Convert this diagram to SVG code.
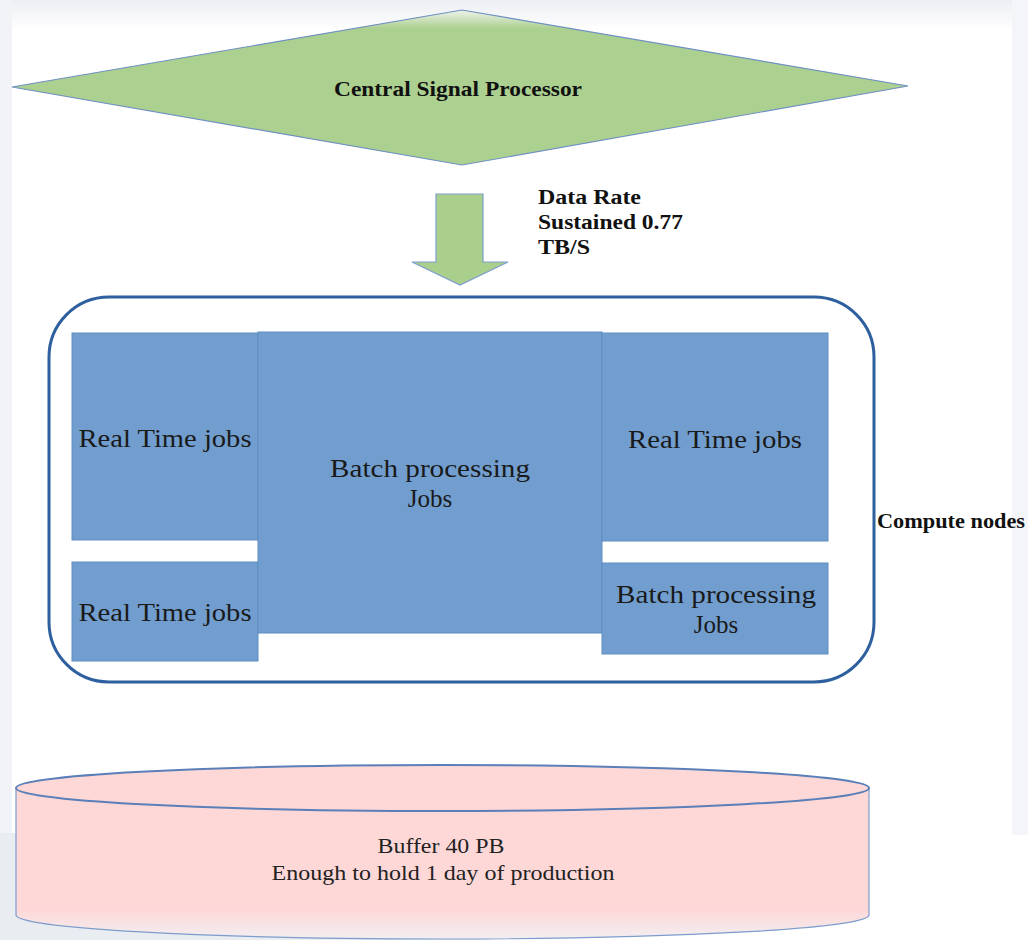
<svg xmlns="http://www.w3.org/2000/svg" width="1028" height="940" viewBox="0 0 1028 940">
<style>
.job{fill:#719ece;stroke:#5f8dc2;stroke-width:1}
.jt{font-family:"Liberation Serif",serif;font-size:25px;fill:#1a1a1a;text-anchor:middle}
.bt{font-family:"Liberation Serif",serif;font-weight:bold;fill:#111}
.st{font-family:"Liberation Serif",serif;font-size:22px;fill:#222;text-anchor:middle}
</style>
<defs>
<linearGradient id="topfade" x1="0" y1="0" x2="0" y2="1">
<stop offset="0" stop-color="#eceef3"/><stop offset="1" stop-color="#ffffff"/>
</linearGradient>
<linearGradient id="dfade" x1="0" y1="0" x2="0" y2="1">
<stop offset="0" stop-color="#eef3ea"/><stop offset="0.12" stop-color="#acd090"/><stop offset="1" stop-color="#acd090"/>
</linearGradient>
<linearGradient id="cylfade" x1="0" y1="0" x2="0" y2="1">
<stop offset="0" stop-color="#fdd8d7"/><stop offset="0.8" stop-color="#fdd8d7"/><stop offset="1" stop-color="#f3eef2"/>
</linearGradient>
</defs>
<rect x="0" y="0" width="1028" height="940" fill="#ffffff"/>
<rect x="0" y="0" width="1028" height="30" fill="url(#topfade)"/>
<rect x="0" y="0" width="12" height="940" fill="#f1f3f7"/>
<rect x="1012" y="0" width="16" height="835" fill="#f4f5f8"/>
<polygon points="0,833 512,833 490,940 0,940" fill="#e9ecf1"/>

<g id="central-signal-processor">
<polygon points="12,87 462,10 908,86 462,165" fill="url(#dfade)" stroke="#6f90c2" stroke-width="1.2"/>
<text class="bt" x="458" y="96" font-size="22" text-anchor="middle" textLength="248" lengthAdjust="spacingAndGlyphs">Central Signal Processor</text>
</g>

<g id="connectors">
<polygon points="436,194 483,194 483,262 508,262 460,285 412,262 436,262" fill="#aacf8d" stroke="#7d9ecd" stroke-width="1.2"/>
</g>

<g id="data-rate-label">
<text class="bt" font-size="20"><tspan x="538" y="204" textLength="103" lengthAdjust="spacingAndGlyphs">Data Rate</tspan><tspan x="538" y="229" textLength="145" lengthAdjust="spacingAndGlyphs">Sustained 0.77</tspan><tspan x="538" y="254" textLength="52" lengthAdjust="spacingAndGlyphs">TB/S</tspan></text>
</g>

<g id="compute-nodes">
<rect x="49" y="297" width="825" height="385" rx="60" ry="60" fill="#ffffff" stroke="#2e5f9e" stroke-width="3"/>
<text class="bt" x="877" y="528" font-size="20" textLength="148" lengthAdjust="spacingAndGlyphs">Compute nodes</text>
</g>

<g id="rt-left-top">
<rect class="job" x="72" y="333" width="186" height="207"/>
<text class="jt" x="165" y="447" textLength="173" lengthAdjust="spacingAndGlyphs">Real Time jobs</text>
</g>
<g id="rt-left-bottom">
<rect class="job" x="72" y="562" width="186" height="99"/>
<text class="jt" x="165" y="621" textLength="173" lengthAdjust="spacingAndGlyphs">Real Time jobs</text>
</g>
<g id="batch-center">
<rect class="job" x="258" y="332" width="344" height="301"/>
<text class="jt" x="430" y="477" textLength="200" lengthAdjust="spacingAndGlyphs">Batch processing</text>
<text class="jt" x="430" y="507">Jobs</text>
</g>
<g id="rt-right-top">
<rect class="job" x="602" y="333" width="226" height="208"/>
<text class="jt" x="715" y="448" textLength="174" lengthAdjust="spacingAndGlyphs">Real Time jobs</text>
</g>
<g id="batch-right-bottom">
<rect class="job" x="602" y="563" width="226" height="91"/>
<text class="jt" x="716" y="603" textLength="200" lengthAdjust="spacingAndGlyphs">Batch processing</text>
<text class="jt" x="716" y="633">Jobs</text>
</g>

<g id="buffer">
<path d="M16,788 L16,915 A426.5,24 0 0 0 869,915 L869,788 Z" fill="url(#cylfade)" stroke="#7d9ccb" stroke-width="1.2"/>
<ellipse cx="442.5" cy="788" rx="426.5" ry="23" fill="#fdd8d7" stroke="#5b7fb8" stroke-width="2"/>
<text class="st" x="441" y="853" textLength="127" lengthAdjust="spacingAndGlyphs">Buffer 40 PB</text>
<text class="st" x="443" y="880" textLength="343" lengthAdjust="spacingAndGlyphs">Enough to hold 1 day of production</text>
</g>
</svg>
